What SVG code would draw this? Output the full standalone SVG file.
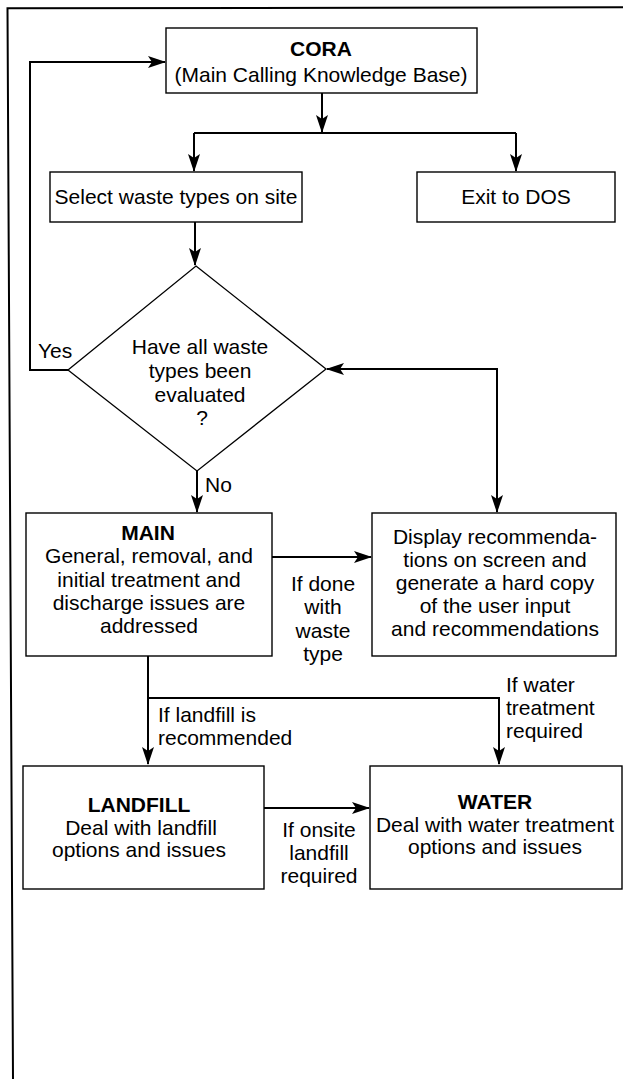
<svg xmlns="http://www.w3.org/2000/svg" width="623" height="1079" viewBox="0 0 623 1079">
<style>
.box{fill:#fff;stroke:#000;stroke-width:1.4}
.con{fill:none;stroke:#000;stroke-width:2}
.t{font-family:"Liberation Sans",Arial,Helvetica,sans-serif;font-size:21px;fill:#000;text-anchor:middle}
.b{font-weight:bold}
.l{text-anchor:start}
</style>
<defs>
<marker id="ah" viewBox="0 0 18 12" refX="17" refY="6" markerWidth="18" markerHeight="12" markerUnits="userSpaceOnUse" orient="auto-start-reverse">
<path d="M0,0 L18,6 L0,12 L4,6 Z" fill="#000"/>
</marker>
</defs>
<rect width="623" height="1079" fill="#fff"/>
<g id="frame">
<path d="M13,1079 L7.5,8.3 L623,7.3" fill="none" stroke="#000" stroke-width="2"/>
</g>
<g id="connectors">
<path class="con" d="M68,370 H30 V62 H165" marker-end="url(#ah)"/>
<path class="con" d="M322,93 V132" marker-end="url(#ah)"/>
<path class="con" d="M194,133 H516"/>
<path class="con" d="M194,133 V171" marker-end="url(#ah)"/>
<path class="con" d="M516,133 V171" marker-end="url(#ah)"/>
<path class="con" d="M195,222 V265" marker-end="url(#ah)"/>
<path class="con" d="M197,471 V512" marker-end="url(#ah)"/>
<path class="con" d="M327,369 H497 V512" marker-start="url(#ah)" marker-end="url(#ah)"/>
<path class="con" d="M272,557 H371" marker-end="url(#ah)"/>
<path class="con" d="M148,656 V764" marker-end="url(#ah)"/>
<path class="con" d="M148,698 H499 V764" marker-end="url(#ah)"/>
<path class="con" d="M264,808 H369" marker-end="url(#ah)"/>
<text class="t l" x="38" y="358">Yes</text>
<text class="t l" x="205" y="492">No</text>
<text class="t" x="323" y="591">If done</text>
<text class="t" x="323" y="614">with</text>
<text class="t" x="323" y="638">waste</text>
<text class="t" x="323" y="661">type</text>
<text class="t l" x="158" y="722">If landfill is</text>
<text class="t l" x="158" y="745">recommended</text>
<text class="t l" x="506" y="692">If water</text>
<text class="t l" x="506" y="715">treatment</text>
<text class="t l" x="506" y="738">required</text>
<text class="t" x="319" y="837">If onsite</text>
<text class="t" x="319" y="860">landfill</text>
<text class="t" x="319" y="883">required</text>
</g>
<g id="cora">
<rect class="box" x="166" y="28" width="311" height="65"/>
<text class="t b" x="321" y="56">CORA</text>
<text class="t" x="321" y="82">(Main Calling Knowledge Base)</text>
</g>
<g id="select">
<rect class="box" x="50" y="172" width="252" height="50"/>
<text class="t" x="176" y="204">Select waste types on site</text>
</g>
<g id="exit">
<rect class="box" x="417" y="172" width="198" height="50"/>
<text class="t" x="516" y="204">Exit to DOS</text>
</g>
<g id="decision">
<path d="M196,266 L326,369 L197,471 L68,370 Z" fill="#fff" stroke="#000" stroke-width="1.3"/>
<text class="t" x="200" y="354">Have all waste</text>
<text class="t" x="200" y="378">types been</text>
<text class="t" x="200" y="402">evaluated</text>
<text class="t" x="202" y="425">?</text>
</g>
<g id="main">
<rect class="box" x="26" y="513" width="246" height="143"/>
<text class="t b" x="148" y="540">MAIN</text>
<text class="t" x="149" y="563">General, removal, and</text>
<text class="t" x="149" y="587">initial treatment and</text>
<text class="t" x="149" y="610">discharge issues are</text>
<text class="t" x="149" y="633">addressed</text>
</g>
<g id="display">
<rect class="box" x="372" y="513" width="244" height="143"/>
<text class="t" x="495" y="544">Display recommenda-</text>
<text class="t" x="495" y="567">tions on screen and</text>
<text class="t" x="495" y="590">generate a hard copy</text>
<text class="t" x="495" y="613">of the user input</text>
<text class="t" x="495" y="636">and recommendations</text>
</g>
<g id="landfill">
<rect class="box" x="23" y="766" width="241" height="123"/>
<text class="t b" x="139" y="812">LANDFILL</text>
<text class="t" x="141" y="835">Deal with landfill</text>
<text class="t" x="139" y="857">options and issues</text>
</g>
<g id="water">
<rect class="box" x="370" y="766" width="252" height="123"/>
<text class="t b" x="495" y="809">WATER</text>
<text class="t" x="495" y="832">Deal with water treatment</text>
<text class="t" x="495" y="854">options and issues</text>
</g>
</svg>
